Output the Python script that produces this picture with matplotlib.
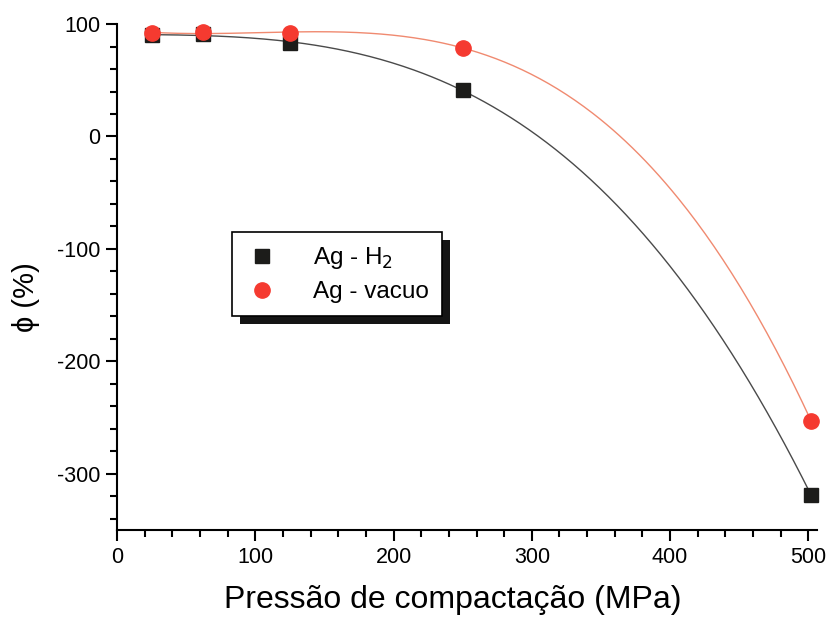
import matplotlib
matplotlib.use("Agg")
import matplotlib.pyplot as plt
import numpy as np
from matplotlib.patches import Rectangle
from matplotlib.ticker import MultipleLocator

plt.rcParams["font.family"] = ["Liberation Sans", "DejaVu Sans"]
plt.rcParams["axes.unicode_minus"] = False

pressao = [25, 62, 125, 250, 502]
phi_h2 = [90, 91, 83.5, 41, -319]
phi_vacuo = [92, 93, 92, 79, -253]

fig = plt.figure(figsize=(8.28, 6.17), dpi=100)
ax = fig.add_axes([0.1413, 0.141, 0.845, 0.820])

# curvas de ajuste (polinomio de 3a ordem sobre os pontos)
xs = np.linspace(min(pressao), max(pressao), 300)
fit_h2 = np.polyval(np.polyfit(pressao, phi_h2, 3), xs)
fit_vac = np.polyval(np.polyfit(pressao, phi_vacuo, 3), xs)
ax.plot(xs, fit_h2, color="#4a4a4a", lw=1.0, zorder=2)
ax.plot(xs, fit_vac, color="#f08a70", lw=1.0, zorder=2)

ax.plot(pressao, phi_h2, "s", color="#1c1c1a", ms=10, ls="none",
        label="Ag - H$_2$", zorder=3, clip_on=False)
ax.plot(pressao, phi_vacuo, "o", color="#f53a30", ms=11, ls="none",
        label="Ag - vacuo", zorder=4, clip_on=False)

ax.set_xlim(0, 506)
ax.set_ylim(-350, 100)
ax.xaxis.set_major_locator(MultipleLocator(100))
ax.xaxis.set_minor_locator(MultipleLocator(20))
ax.yaxis.set_major_locator(MultipleLocator(100))
ax.yaxis.set_minor_locator(MultipleLocator(20))
ax.tick_params(which="major", direction="out", length=8, width=1.5,
               labelsize=15.5, pad=4)
ax.tick_params(which="minor", direction="out", length=5, width=1.5)
for side in ("top", "right"):
    ax.spines[side].set_visible(False)
for side in ("left", "bottom"):
    ax.spines[side].set_linewidth(1.5)

ax.set_xlabel("Pressão de compactação (MPa)", fontsize=23)
ax.xaxis.set_label_coords(0.48, -0.108)
ax.set_ylabel("ϕ (%)", fontsize=21)
ax.yaxis.set_label_coords(-0.11, 0.46)

leg = ax.legend(loc="upper left", bbox_to_anchor=(0.164, 0.589), fontsize=17.5,
                frameon=True, fancybox=False, edgecolor="black",
                facecolor="white", framealpha=1,
                borderpad=0.55, handletextpad=1.4, labelspacing=0.4,
                handlelength=1.4, borderaxespad=0)
leg.get_frame().set_linewidth(1.2)
leg.set_zorder(6)

fig.canvas.draw()
bb = leg.get_window_extent().transformed(fig.transFigure.inverted())
off_x, off_y = 8 / 828, 8 / 617
ax.add_patch(Rectangle((bb.x0 + off_x, bb.y0 - off_y), bb.width, bb.height,
                       transform=fig.transFigure, facecolor="#151515",
                       edgecolor="none", zorder=5, clip_on=False))

fig.savefig("out.png", dpi=100)
